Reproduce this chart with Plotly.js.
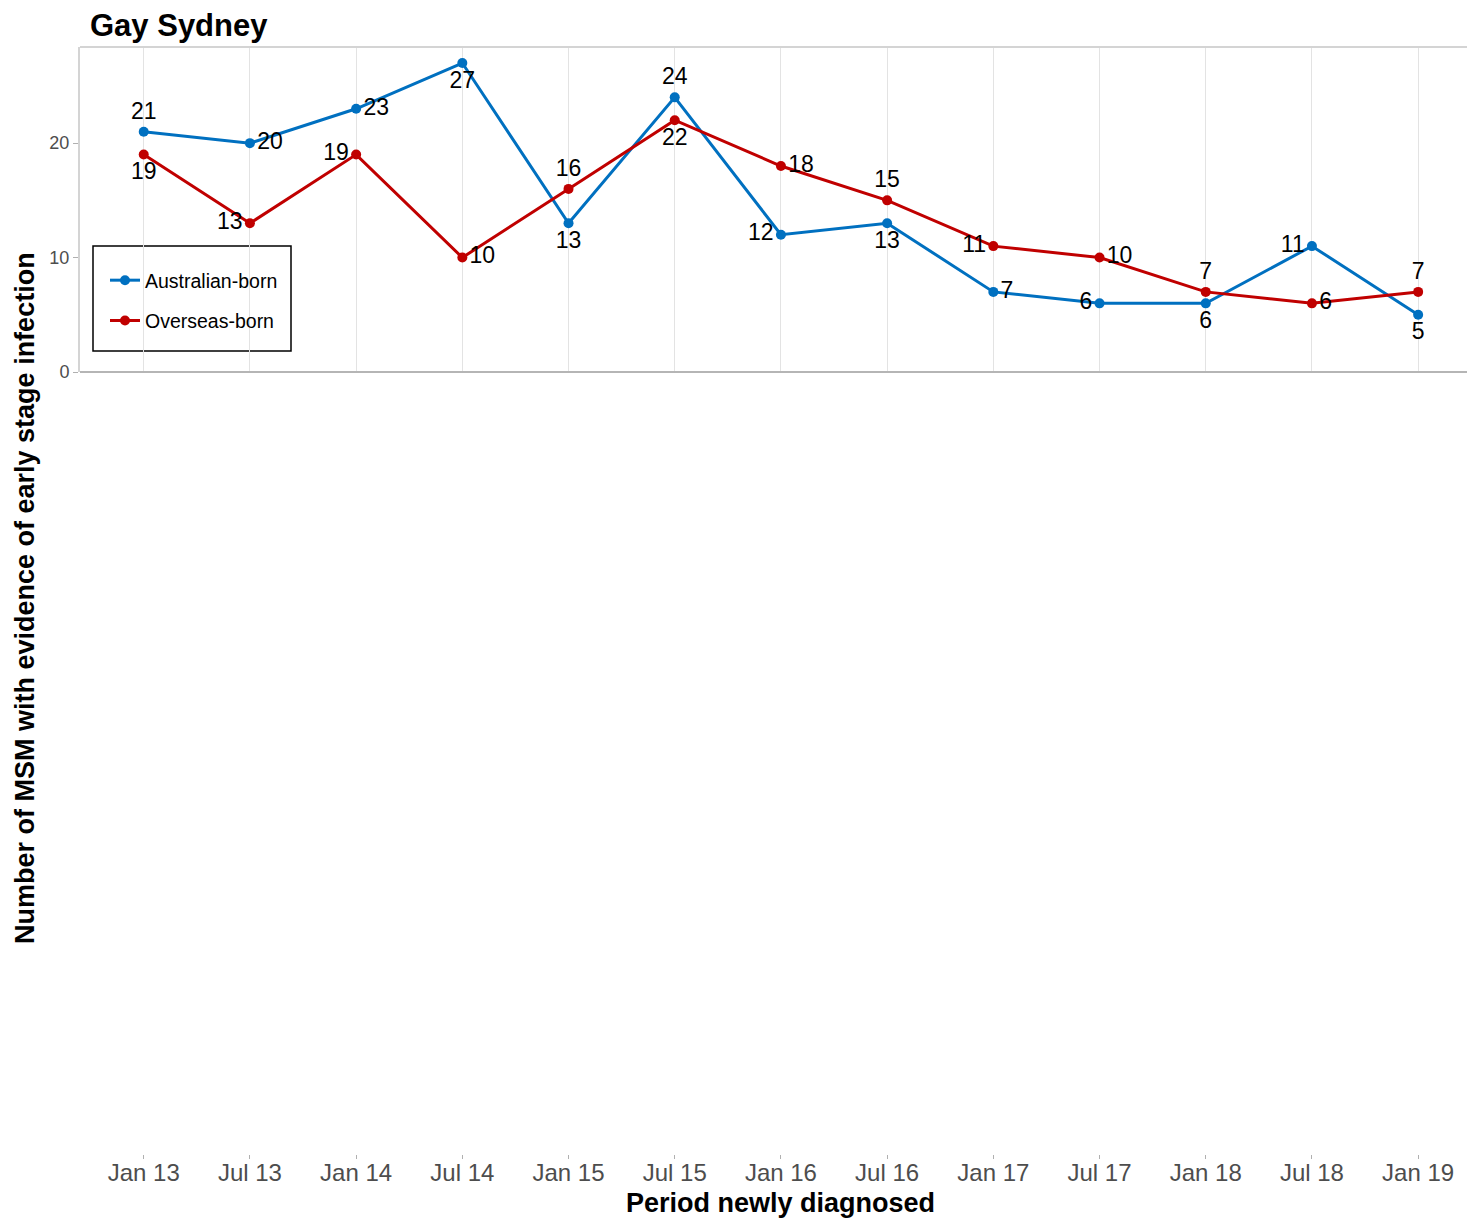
<!DOCTYPE html>
<html>
<head>
<meta charset="utf-8">
<script src="https://cdn.plot.ly/plotly-3.0.1.min.js"></script>
<style>html,body{margin:0;padding:0;background:#fff;}#chart{width:1468px;height:1218px;}</style>
</head>
<body>
<div id="chart"></div>
<script>
// ---- data ----
const periods = ["Jan 13","Jul 13","Jan 14","Jul 14","Jan 15","Jul 15","Jan 16","Jul 16","Jan 17","Jul 17","Jan 18","Jul 18","Jan 19"];
const australianBorn = [21,20,23,27,13,24,12,13,7,6,6,11,5];
const overseasBorn = [19,13,19,10,16,22,18,15,11,10,7,6,7];
const yTicks = [0,10,20];

// ---- label placement (style) ----
const ausPos = ["top center","middle right","middle right","bottom center","bottom center","top center","middle left","bottom center","middle right","middle left","bottom center","middle left","bottom center"];
const ovsPos = ["bottom center","middle left","middle left","middle right","top center","bottom center","middle right","top center","middle left","middle right","top center","middle right","top center"];

const FONT = "Liberation Sans, Arial, sans-serif";
const BLUE = "#0070C0", RED = "#C00000";

const traces = [
  {x: periods, y: australianBorn, name: "Australian-born", type: "scatter", mode: "lines+markers+text",
   text: australianBorn.map(String), textposition: ausPos, textfont: {family: FONT, size: 23, color: "#000"},
   line: {color: BLUE, width: 3}, marker: {color: BLUE, size: 10}, legendgroup: "a", cliponaxis: false},
  {x: periods, y: overseasBorn, name: "Overseas-born", type: "scatter", mode: "lines+markers+text",
   text: overseasBorn.map(String), textposition: ovsPos, textfont: {family: FONT, size: 23, color: "#000"},
   line: {color: RED, width: 3}, marker: {color: RED, size: 10}, legendgroup: "b", cliponaxis: false}
];

const W = 1468, H = 1218;
const mL = 80, mR = 1, mT = 47, mB = 64;
const plotH = H - mT - mB;
const panelBottomPx = 372;
const yDomStart = (H - mB - panelBottomPx) / plotH;
const pxX = v => (v - mL) / (W - mL - mR);
const pxY = v => (H - mB - v) / plotH;

const layout = {
  width: W, height: H,
  margin: {l: mL, r: mR, t: mT, b: mB},
  paper_bgcolor: "#fff", plot_bgcolor: "#fff",
  font: {family: FONT, color: "#000"},
  showlegend: true,
  title: {text: "<b>Gay Sydney</b>", font: {family: FONT, size: 31, color: "#000"},
          xref: "paper", x: pxX(90), xanchor: "left", yref: "container", y: 1 - 25 / H, yanchor: "middle"},
  xaxis: {type: "category", range: [-0.6, 12.46], anchor: "free", position: 0,
          showgrid: true, gridcolor: "#e3e3e3", gridwidth: 1, zeroline: false, showline: false,
          ticks: "outside", ticklen: 4, tickcolor: "#b0b0b0", tickwidth: 1, ticklabelstandoff: -7,
          tickfont: {family: FONT, size: 24, color: "#4d4d4d"},
          title: {text: "", font: {family: FONT, size: 27, color: "#000"}},
          fixedrange: true},
  yaxis: {domain: [yDomStart, 1], range: [0, 28.4], tickvals: yTicks, ticktext: yTicks.map(String),
          showgrid: false, zeroline: false, showline: true, linecolor: "#d4d4d4", linewidth: 2,
          ticks: "outside", ticklen: 5, tickcolor: "#b0b0b0", tickwidth: 1,
          tickfont: {family: FONT, size: 18, color: "#4d4d4d"}, fixedrange: true},
  legend: {x: pxX(105), y: pxY(261), xanchor: "left", yanchor: "top",
           bgcolor: "rgba(0,0,0,0)", borderwidth: 0, tracegroupgap: 12,
           font: {family: FONT, size: 19.5, color: "#000"}, itemwidth: 30},
  shapes: [
    {type: "line", xref: "paper", yref: "y domain", x0: 0, x1: 1, y0: 1, y1: 1, line: {color: "#d4d4d4", width: 2}},
    {type: "line", xref: "paper", yref: "y domain", x0: 0, x1: 1, y0: 0, y1: 0, line: {color: "#b5b5b5", width: 2}},
    {type: "rect", xref: "paper", yref: "paper", x0: pxX(93), x1: pxX(291), y0: pxY(351), y1: pxY(246),
     line: {color: "#000", width: 1.5}, fillcolor: "rgba(0,0,0,0)", layer: "below"}
  ],
  annotations: [
    {text: "<b>Number of MSM with evidence of early stage infection</b>", textangle: -90,
     xref: "paper", yref: "paper", x: pxX(25), y: pxY(598), xanchor: "center", yanchor: "middle",
     showarrow: false, font: {family: FONT, size: 27, color: "#000"}},
    {text: "<b>Period newly diagnosed</b>",
     xref: "paper", yref: "paper", x: pxX(780), y: pxY(1203), xanchor: "center", yanchor: "middle",
     showarrow: false, font: {family: FONT, size: 27, color: "#000"}}
  ]
};

Plotly.newPlot("chart", traces, layout, {displayModeBar: false, staticPlot: true});
</script>
</body>
</html>
